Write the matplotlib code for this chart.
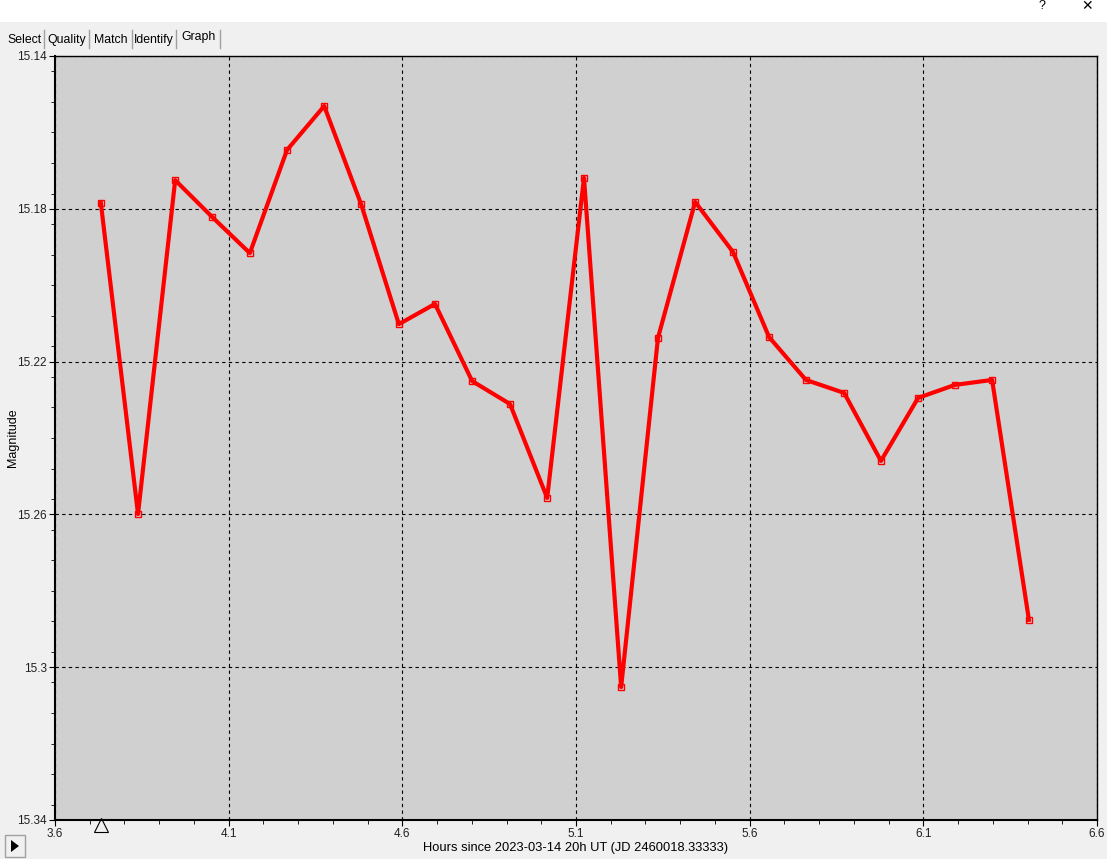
import matplotlib.pyplot as plt
from matplotlib.patches import Rectangle, Polygon
from matplotlib.ticker import MultipleLocator
from matplotlib.transforms import ScaledTranslation

plt.rcParams['font.family'] = ['Liberation Sans', 'DejaVu Sans']

# Data
hours = [3.732, 3.839, 3.946, 4.052, 4.161, 4.268, 4.375, 4.481, 4.590,
         4.694, 4.801, 4.910, 5.017, 5.123, 5.230, 5.336, 5.443, 5.552,
         5.656, 5.762, 5.872, 5.978, 6.085, 6.191, 6.298, 6.404]
magnitude = [15.1785, 15.2599, 15.1725, 15.1821, 15.1916, 15.1646, 15.1531,
             15.1787, 15.2102, 15.2049, 15.2251, 15.2311, 15.2557, 15.1719,
             15.3052, 15.2138, 15.1782, 15.1913, 15.2136, 15.2248, 15.2282,
             15.2460, 15.2295, 15.2261, 15.2248, 15.2876]
selected_hour = 3.732
x_ticks = [3.6, 4.1, 4.6, 5.1, 5.6, 6.1, 6.6]
y_ticks = [15.14, 15.18, 15.22, 15.26, 15.3, 15.34]
y_labels = ['15.14', '15.18', '15.22', '15.26', '15.3', '15.34']
tabs = ['Select', 'Quality', 'Match', 'Identify', 'Graph']

W, H = 1107, 859
fig = plt.figure(figsize=(W / 100, H / 100), dpi=100, facecolor='#f0f0f0')

# title bar
fig.patches.append(Rectangle((0, 1 - 22 / H), 1, 22 / H, transform=fig.transFigure,
                             facecolor='white', edgecolor='none'))
fig.text(1042 / W, 1 - 6 / H, '?', fontsize=9, ha='center', va='center')
fig.text(1087 / W, 1 - 6 / H, '\u2715', fontsize=10, ha='center', va='center',
         family=['DejaVu Sans'])

# tabs
tab_x = [4, 44, 89, 132, 176]
tab_w = [40, 45, 43, 44, 44]
for i, name in enumerate(tabs):
    x0 = tab_x[i]
    if name == 'Graph':
        fig.patches.append(Rectangle((x0 / W, 1 - 48 / H), tab_w[i] / W, 20 / H,
                                     transform=fig.transFigure, facecolor='#f0f0f0',
                                     edgecolor='none'))
        fig.text((x0 + tab_w[i] / 2) / W, 1 - 37 / H, name, fontsize=8.8,
                 ha='center', va='center')
    else:
        fig.text((x0 + tab_w[i] / 2) / W, 1 - 40 / H, name, fontsize=8.8,
                 ha='center', va='center')
    xr = (x0 + tab_w[i]) / W
    fig.add_artist(plt.Line2D([xr, xr], [1 - 48 / H, 1 - 30 / H],
                              transform=fig.transFigure, color='#a0a0a0', lw=1))

ax = fig.add_axes([55 / W, 1 - 820 / H, 1042 / W, 764 / H])
ax.set_facecolor('#d0d0d0')
ax.plot(hours, magnitude, color='#ff0000', lw=3, marker='s', ms=5,
        mfc='none', mec='#ff0000', mew=1)

ax.set_xlim(3.6, 6.6)
ax.set_ylim(15.34, 15.14)
ax.set_xticks(x_ticks)
ax.set_xticklabels([str(t) for t in x_ticks])
ax.set_yticks(y_ticks)
ax.set_yticklabels(y_labels)
ax.xaxis.set_minor_locator(MultipleLocator(0.1))
ax.yaxis.set_minor_locator(MultipleLocator(0.008))
ax.grid(True, which='major', color='black', linestyle=(0, (3, 3)), lw=0.8)
ax.tick_params(which='both', direction='out', labelsize=8.5, color='black',
               labelcolor='#202020')
ax.tick_params(which='major', length=4, pad=2)
ax.tick_params(which='minor', length=3)
for s in ['right', 'top']:
    ax.spines[s].set_linewidth(1.0)
for s in ['left', 'bottom']:
    ax.spines[s].set_linewidth(1.5)

ax.set_xlabel('Hours since 2023-03-14 20h UT (JD 2460018.33333)', fontsize=9.3,
              labelpad=1)
ax.set_ylabel('Magnitude', fontsize=9)
ax.yaxis.set_label_coords(-36 / 1042, 0.5)

# selected point marker just under the x axis
sel, = ax.plot([selected_hour], [15.34], marker='^', ms=10, mfc='none',
               mec='black', mew=0.8, clip_on=False)
sel.set_transform(ax.transData + ScaledTranslation(0, -5 / 100, fig.dpi_scale_trans))

# play button in the corner
fig.patches.append(Rectangle((5 / W, 1 - 857 / H), 20 / W, 22 / H,
                             transform=fig.transFigure, facecolor='#f0f0f0',
                             edgecolor='#a0a0a0', lw=1))
fig.patches.append(Polygon([[11 / W, 1 - 852 / H], [11 / W, 1 - 840 / H],
                            [19 / W, 1 - 846 / H]], closed=True,
                           transform=fig.transFigure, facecolor='black'))

fig.savefig('out.png', dpi=100, facecolor=fig.get_facecolor())
